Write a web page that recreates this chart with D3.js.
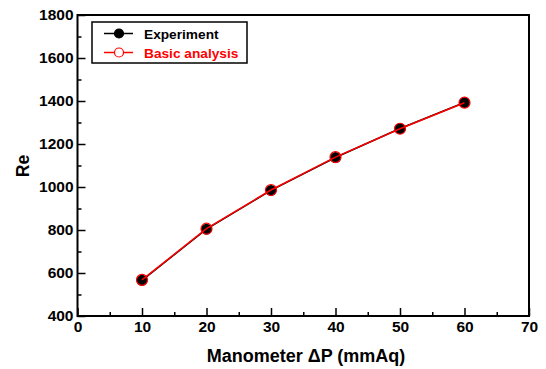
<!DOCTYPE html>
<html>
<head>
<meta charset="utf-8">
<script src="https://cdn.jsdelivr.net/npm/d3@7"></script>
<style>
body { margin: 0; background: #fff; }
text { font-family: Arial, "Liberation Sans", sans-serif; font-weight: bold; }
</style>
</head>
<body>
<div id="chart"></div>
<script>
// values
var pressure = [10, 20, 30, 40, 50, 60];
var reExperiment = [566, 804, 984, 1137, 1272, 1393];
var reBasic = [568, 806, 986, 1139, 1271, 1392];
var xTicks = [0, 10, 20, 30, 40, 50, 60, 70];
var yTicks = [400, 600, 800, 1000, 1200, 1400, 1600, 1800];
var seriesNames = ["Experiment", "Basic analysis"];

var width = 546, height = 369;
var plotLeft = 77.5, plotRight = 529, plotTop = 15, plotBottom = 316;
var red = "#ff0000";

var svg = d3.select("#chart").append("svg")
  .attr("width", width)
  .attr("height", height);

var x = d3.scaleLinear().domain([0, 70]).range([plotLeft, plotRight]);
var y = d3.scaleLinear().domain([400, 1800]).range([plotBottom, plotTop]);

// minor ticks
svg.append("g")
  .attr("transform", "translate(0," + plotBottom + ")")
  .call(d3.axisBottom(x).tickValues(d3.range(5, 70, 10)).tickSize(-4).tickFormat(""))
  .call(function(g) { g.select(".domain").remove(); g.selectAll("line").attr("stroke-width", 1.5); });
svg.append("g")
  .attr("transform", "translate(" + plotLeft + ",0)")
  .call(d3.axisLeft(y).tickValues(d3.range(500, 1800, 200)).tickSize(-4).tickFormat(""))
  .call(function(g) { g.select(".domain").remove(); g.selectAll("line").attr("stroke-width", 1.5); });

// major ticks
var xAxis = svg.append("g")
  .attr("transform", "translate(0," + plotBottom + ")")
  .call(d3.axisBottom(x).tickValues(xTicks).tickSize(-8).tickPadding(5).tickFormat(d3.format("d")));
xAxis.select(".domain").remove();
xAxis.selectAll("line").attr("stroke-width", 1.5);
xAxis.selectAll("text").attr("font-size", 15.5).attr("fill", "#000");

var yAxis = svg.append("g")
  .attr("transform", "translate(" + plotLeft + ",0)")
  .call(d3.axisLeft(y).tickValues(yTicks).tickSize(-8).tickPadding(4).tickFormat(d3.format("d")));
yAxis.select(".domain").remove();
yAxis.selectAll("line").attr("stroke-width", 1.5);
yAxis.selectAll("text").attr("font-size", 15.5).attr("fill", "#000");

// frame
svg.append("rect")
  .attr("x", plotLeft).attr("y", plotTop)
  .attr("width", plotRight - plotLeft).attr("height", plotBottom - plotTop)
  .attr("fill", "none").attr("stroke", "#000").attr("stroke-width", 2);

var line = d3.line()
  .x(function(d, i) { return x(pressure[i]); })
  .y(function(d) { return y(d); });

// experiment: black line + filled markers
svg.append("path").datum(reExperiment)
  .attr("d", line).attr("fill", "none").attr("stroke", "#000").attr("stroke-width", 1.5);
svg.selectAll(".exp").data(reExperiment).enter().append("circle")
  .attr("class", "exp")
  .attr("cx", function(d, i) { return x(pressure[i]); })
  .attr("cy", function(d) { return y(d); })
  .attr("r", 5.5)
  .attr("fill", "#000");

// basic analysis: red line + open markers on top
svg.append("path").datum(reBasic)
  .attr("d", line).attr("fill", "none").attr("stroke", red).attr("stroke-width", 1.5);
svg.selectAll(".basic").data(reBasic).enter().append("circle")
  .attr("class", "basic")
  .attr("cx", function(d, i) { return x(pressure[i]); })
  .attr("cy", function(d) { return y(d); })
  .attr("r", 5.5)
  .attr("fill", "none")
  .attr("stroke", red)
  .attr("stroke-width", 1.2);

// axis titles
svg.append("text")
  .attr("x", 306).attr("y", 362)
  .attr("text-anchor", "middle").attr("font-size", 18)
  .text("Manometer ΔP (mmAq)");
svg.append("text")
  .attr("transform", "translate(29,166) rotate(-90)")
  .attr("text-anchor", "middle").attr("font-size", 17.5)
  .text("Re");

// legend
var lg = svg.append("g");
lg.append("rect")
  .attr("x", 92).attr("y", 22).attr("width", 155).attr("height", 41)
  .attr("fill", "#fff").attr("stroke", "#000").attr("stroke-width", 1.5);
var colors = ["#000", red];
var fills = ["#000", "#fff"];
seriesNames.forEach(function(name, i) {
  var ly = 33.5 + i * 19;
  lg.append("line").attr("x1", 104).attr("x2", 133).attr("y1", ly).attr("y2", ly)
    .attr("stroke", colors[i]).attr("stroke-width", 1.5);
  lg.append("circle").attr("cx", 119).attr("cy", ly).attr("r", 4.5)
    .attr("fill", fills[i]).attr("stroke", colors[i]).attr("stroke-width", 1.2);
  lg.append("text").attr("x", 144).attr("y", ly + 5)
    .attr("font-size", 13.7).attr("fill", colors[i]).text(name);
});
</script>
</body>
</html>
